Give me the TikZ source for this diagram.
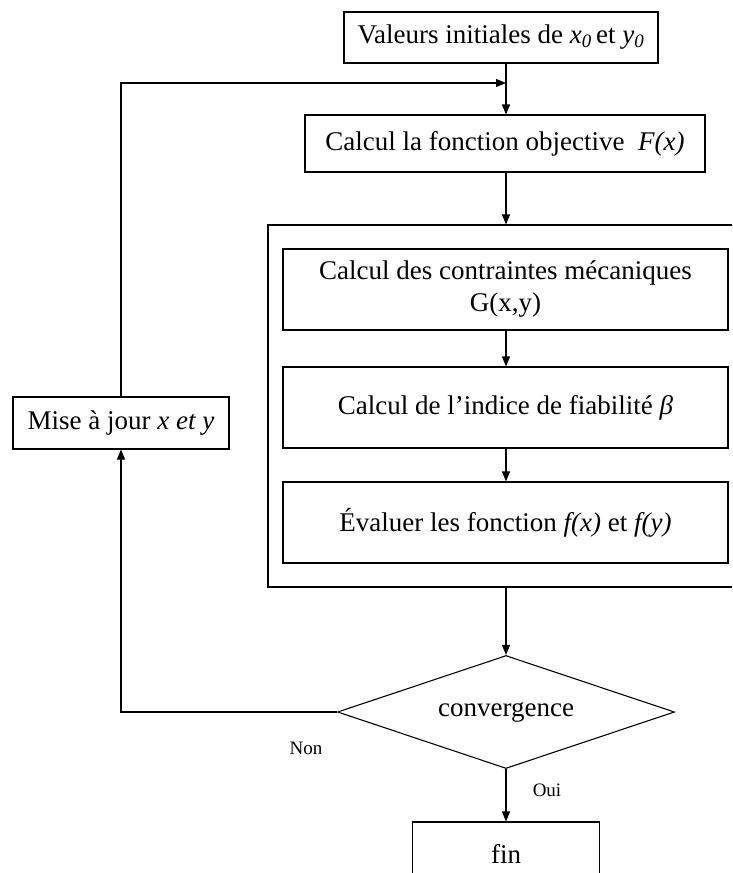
\documentclass[tikz,border=0pt]{standalone}
\usepackage{fontspec}
\setmainfont{Liberation Serif}
\usetikzlibrary{positioning}
\usetikzlibrary{calc}
\usetikzlibrary{arrows.meta}
\usetikzlibrary{shapes.geometric}

\begin{document}
\begin{tikzpicture}[x=1pt, y=-1pt, line width=1.1pt,
    >={Triangle[length=10pt, width=8pt]},
    box/.style={draw, rectangle, inner sep=0pt, align=center,
        font=\fontsize{27}{32}\selectfont},
    label/.style={font=\fontsize{19}{22}\selectfont}]
    \useasboundingbox (0,0) rectangle (732,873);
    \clip (0,0) rectangle (732,873);

    % start
    \node[box, minimum width=314pt, minimum height=51pt] (init) at (501,37.5)
        {Valeurs initiales de \textit{x\textsubscript{0}}\,et \textit{y\textsubscript{0}}};
    \node[box, minimum width=400pt, minimum height=57pt] (objf) at (505,143.5)
        {Calcul la fonction objective~ \textit{F(x)}};
    \coordinate (join) at (506,83);

    % inner loop
    \node[draw, rectangle, minimum width=478pt, minimum height=362pt] (outer) at (507,406) {};
    \node[box, minimum width=445pt, minimum height=81pt] (contr) at (505.5,289.5)
        {Calcul des contraintes mécaniques\\G(x,y)};
    \node[box, minimum width=445pt, minimum height=81pt] (beta) at (505.5,407.5)
        {Calcul de l’indice de fiabilité \textit{β}};
    \node[box, minimum width=445pt, minimum height=81pt] (eval) at (505.5,522.5)
        {Évaluer les fonction \textit{f(x)} et \textit{f(y)}};

    % test
    \node[draw, diamond, aspect=3, inner sep=0pt, minimum width=337pt, minimum height=113pt,
        font=\fontsize{27}{32}\selectfont] (conv) at (506,712) {convergence};
    \node[box, minimum width=216pt, minimum height=52pt] (maj) at (121,423)
        {Mise à jour \textit{x et y}};
    \node[box, minimum width=187pt, minimum height=64pt] (fin) at (506,854) {fin};

    \node[label] (non) at (306,748) {Non};
    \node[label] (oui) at (547,790) {Oui};

    % arrows
    \draw[->] (init.south -| join) -- (objf.north -| join);
    \draw[->] (maj.north) |- (join);
    \draw[->] (objf.south -| join) -- (outer.north -| join);
    \draw[->] (contr.south -| join) -- (beta.north -| join);
    \draw[->] (beta.south -| join) -- (eval.north -| join);
    \draw[->] (outer.south -| conv) -- (conv.north);
    \draw[->] (conv.west) -| (maj.south);
    \draw[->] (conv.south) -- (fin.north);
\end{tikzpicture}
\end{document}
